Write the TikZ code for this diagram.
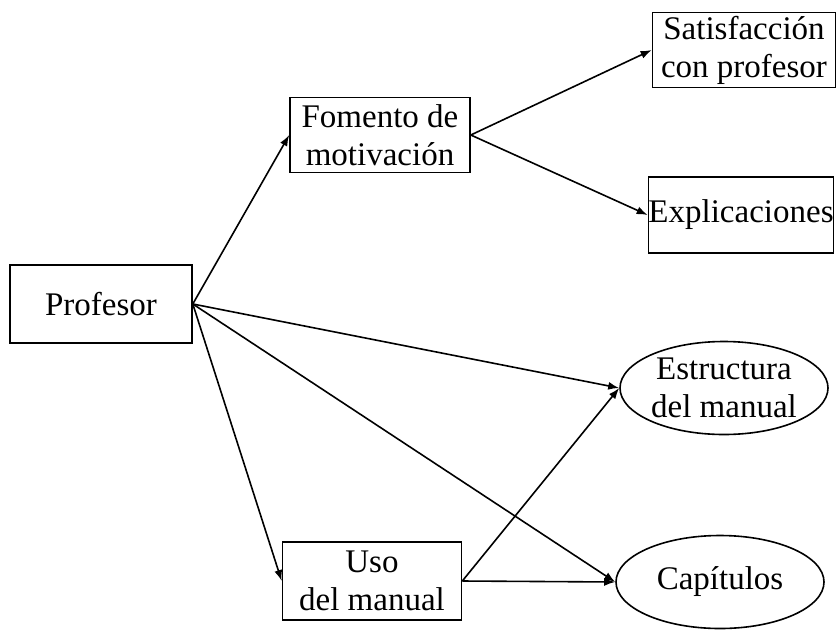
\documentclass[tikz,border=0pt]{standalone}
\usepackage{fontspec}
\setmainfont{Liberation Serif}
\usepackage{tikz}
\usetikzlibrary{shapes,arrows.meta,positioning}
\tikzset{
  every node/.style={
    font=\fontsize{33}{38}\selectfont
  },
  box/.style n args={2}{
    shape=rectangle,
    draw=black,
    line width=1.6pt,
    inner sep=0pt,
    minimum width=#1,
    minimum height=#2,
    align=center
  },
  oval/.style={
    shape=ellipse,
    draw=black,
    line width=1.6pt,
    inner sep=0pt,
    minimum width=208pt,
    minimum height=93pt
  },
  link/.style={
    -{Latex[length=11pt,width=8pt]},
    line width=1.6pt
  }
}

\begin{document}
\begin{tikzpicture}[x=1pt,y=-1pt]
  \useasboundingbox (0,0) rectangle (837,629);
  % boxes
  \node [box={182pt}{78pt}] (prof) at (101,304) {Profesor};
  \node [box={180pt}{75pt}] (fom) at (380,135) {Fomento de\\motivaci\'on};
  \node [box={183pt}{75pt}] (sat) at (744,50) {Satisfacci\'on\\con profesor};
  \node [box={184pt}{76pt}] (expl) at (741,215) {Explicaciones};
  \node [box={179pt}{78pt}] (uso) at (372,581) {Uso\\del manual};
  % ellipses
  \node [oval] (est) at (724,388) {};
  \node [align=center] at (est) {Estructura\\del manual};
  \node [oval] (cap) at (720,582) {};
  \node at (cap) {Cap\'itulos};
  % connectors
  \draw [link] (prof.east) -- (fom.west);
  \draw [link] (fom.east) -- (sat.west);
  \draw [link] (fom.east) -- (expl.west);
  \draw [link] (prof.east) -- (est.west);
  \draw [link] (prof.east) -- (cap.west);
  \draw [link] (prof.east) -- (uso.west);
  \draw [link] (uso.east) -- (est.west);
  \draw [link] (uso.east) -- (cap.west);
\end{tikzpicture}
\end{document}
